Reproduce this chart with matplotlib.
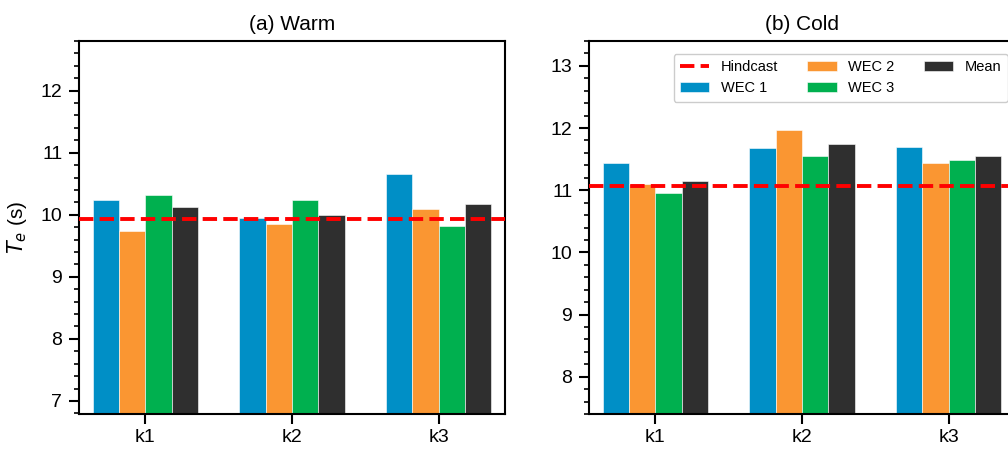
import numpy as np
import matplotlib
matplotlib.use("Agg")
import matplotlib.pyplot as plt
from matplotlib.ticker import MultipleLocator

plt.rcParams['font.family'] = ['Liberation Sans', 'DejaVu Sans']
plt.rcParams['mathtext.fontset'] = 'dejavusans'

# data
cases = ['k1', 'k2', 'k3']
series = ['WEC 1', 'WEC 2', 'WEC 3', 'Mean']
colors = ['#008fc6', '#fa9632', '#00b04f', '#2f2f2f']

warm_wec1 = [10.24, 9.95, 10.66]
warm_wec2 = [9.74, 9.85, 10.09]
warm_wec3 = [10.32, 10.24, 9.82]
warm_mean = [10.12, 10.00, 10.17]
warm_hindcast = 9.925

cold_wec1 = [11.44, 11.68, 11.70]
cold_wec2 = [11.10, 11.97, 11.44]
cold_wec3 = [10.96, 11.55, 11.49]
cold_mean = [11.15, 11.74, 11.55]
cold_hindcast = 11.07

fig = plt.figure(figsize=(10.08, 4.5), dpi=100)
# axes sizes in pixels: left panel 79..505, right panel 589..1015 (cut by figure edge)
ax1 = fig.add_axes([79/1008, 36/450, 426/1008, 373/450])
ax2 = fig.add_axes([589/1008, 36/450, 426/1008, 373/450])

w = 0.18
x = np.arange(len(cases))
offsets = [-1.5*w, -0.5*w, 0.5*w, 1.5*w]

def panel(ax, vals, hind, title, ylim, legend=False):
    hl = ax.axhline(hind, color='red', ls='--', lw=2.8, zorder=3, label='Hindcast')
    handles = [hl]
    for v, c, s, o in zip(vals, colors, series, offsets):
        b = ax.bar(x + o, v, width=w, color=c, edgecolor='white', linewidth=0.4,
                   label=s, zorder=2)
        handles.append(b)
    ax.set_xlim(-0.453, 2.453)
    ax.set_ylim(*ylim)
    ax.set_xticks(x)
    ax.set_xticklabels(cases)
    ax.yaxis.set_major_locator(MultipleLocator(1))
    ax.yaxis.set_minor_locator(MultipleLocator(0.2))
    ax.tick_params(axis='both', which='major', labelsize=14, length=7, width=1.5)
    ax.tick_params(axis='y', which='major', pad=5)
    ax.tick_params(axis='y', which='minor', length=3.5, width=1.2)
    for sp in ax.spines.values():
        sp.set_linewidth(1.5)
    ax.set_title(title, fontsize=15, pad=8)
    if legend:
        ax.legend(handles=handles, ncol=3, loc='upper right', fontsize=10.5,
                  bbox_to_anchor=(1.0, 0.985), handlelength=2.0,
                  columnspacing=2.0, borderpad=0.45, labelspacing=0.45,
                  framealpha=1, edgecolor='#cccccc', fancybox=True)

panel(ax1, [warm_wec1, warm_wec2, warm_wec3, warm_mean], warm_hindcast,
      '(a) Warm', (6.79, 12.8))
ax1.set_ylabel('$T_e$ (s)', fontsize=15, labelpad=8)

panel(ax2, [cold_wec1, cold_wec2, cold_wec3, cold_mean], cold_hindcast,
      '(b) Cold', (7.4, 13.4), legend=True)

fig.savefig('out.png', dpi=100)
